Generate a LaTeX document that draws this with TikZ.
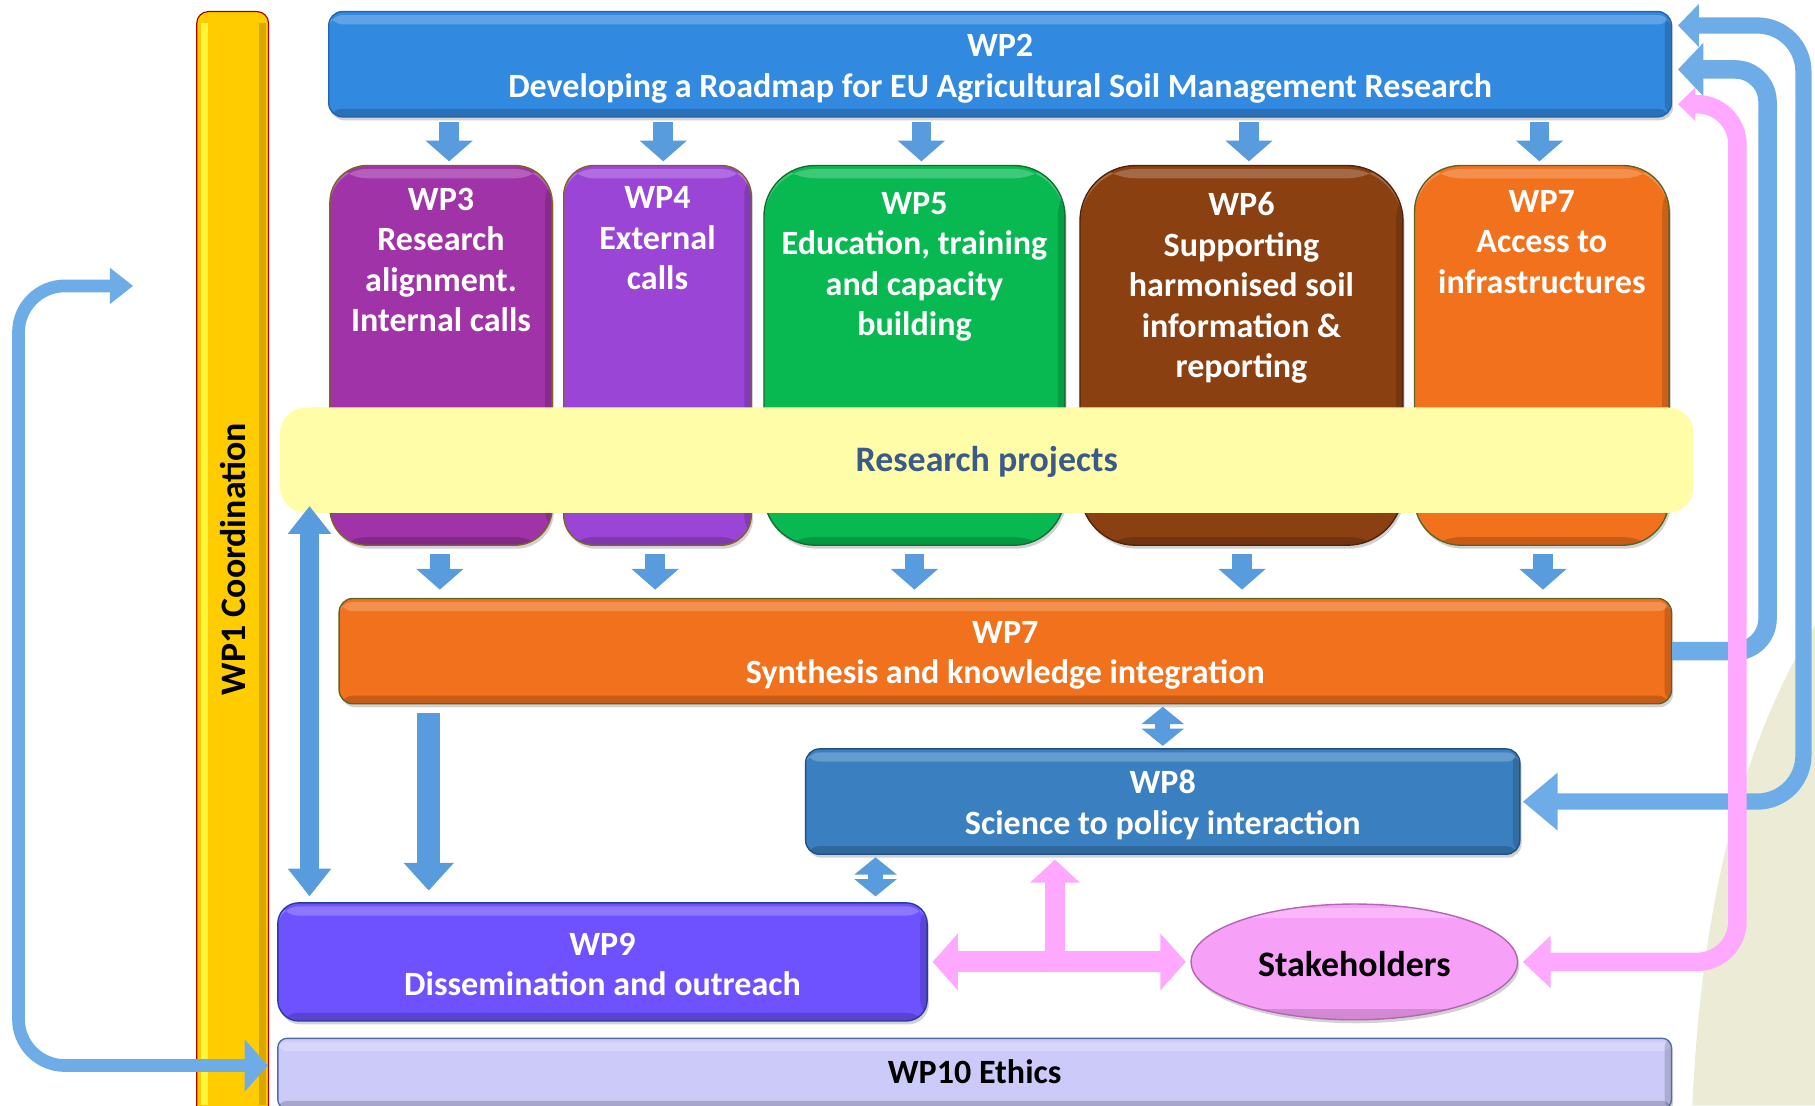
\documentclass[tikz,border=0pt]{standalone}
\usepackage{fontspec}
\setmainfont{Carlito}
\usetikzlibrary{arrows.meta,shapes.geometric,shadows}
\definecolor{cWPtwo}{RGB}{50,137,224}
\definecolor{cWPtwoB}{RGB}{36,100,170}
\definecolor{cWPthree}{RGB}{160,51,168}
\definecolor{cWPfour}{RGB}{155,69,214}
\definecolor{cGoldB}{RGB}{125,100,35}
\definecolor{cWPfive}{RGB}{8,185,82}
\definecolor{cWPfiveB}{RGB}{20,110,50}
\definecolor{cWPsix}{RGB}{139,64,18}
\definecolor{cWPsixB}{RGB}{80,35,10}
\definecolor{cOrange}{RGB}{242,113,29}
\definecolor{cOliveB}{RGB}{90,100,40}
\definecolor{cBand}{RGB}{255,253,168}
\definecolor{cBandText}{RGB}{58,90,140}
\definecolor{cWPeight}{RGB}{58,128,192}
\definecolor{cWPeightB}{RGB}{35,80,130}
\definecolor{cWPnine}{RGB}{110,82,255}
\definecolor{cWPnineB}{RGB}{40,60,160}
\definecolor{cLav}{RGB}{204,202,248}
\definecolor{cLavB}{RGB}{80,110,160}
\definecolor{cPinkE}{RGB}{247,160,247}
\definecolor{cPinkEB}{RGB}{180,100,180}
\definecolor{cPinkA}{RGB}{255,168,255}
\definecolor{cArr}{RGB}{88,156,222}
\definecolor{cArrL}{RGB}{110,172,232}
\definecolor{cYel}{RGB}{255,204,0}
\definecolor{cYelL}{RGB}{255,245,60}
\definecolor{cYelD}{RGB}{190,145,0}
\definecolor{cRed}{RGB}{170,0,0}
\definecolor{cBeige}{RGB}{236,235,214}
\begin{document}
\begin{tikzpicture}[x=1pt,y=-1pt,
  every node/.style={font=\bfseries\fontsize{29.4}{35}\selectfont, inner sep=0pt, align=center},
  bigfont/.style={font=\bfseries\fontsize{31}{36}\selectfont},
  box/.style={fill=#1, line width=1.2pt, rounded corners=12pt,
    drop shadow={opacity=0.35,shadow xshift=1.5pt,shadow yshift=-3pt},
    path picture={
      \fill[white, opacity=0.22] ([yshift=-3pt]path picture bounding box.north west) rectangle ([yshift=-11pt]path picture bounding box.north east);
      \fill[black, opacity=0.18] ([yshift=7pt]path picture bounding box.south west) rectangle (path picture bounding box.south east);
      \fill[black, opacity=0.15] ([xshift=-6pt]path picture bounding box.north east) rectangle (path picture bounding box.south east);
    }},
  wtxt/.style={text=white},
  dnarrow/.style={draw=cArr, line width=17pt, -{Triangle[width=40pt,length=18pt]}},
  dblsmall/.style={draw=cArr, line width=13pt, {Triangle[width=36pt,length=15pt]}-{Triangle[width=36pt,length=15pt]}},
  dbllong/.style={draw=cArr, line width=16pt, {Triangle[width=36pt,length=24pt]}-{Triangle[width=36pt,length=24pt]}},
  longdown/.style={draw=cArr, line width=20pt, -{Triangle[width=42pt,length=24pt]}},
  pinkdbl/.style={draw=cPinkA, line width=18pt, {Triangle[width=48pt,length=22pt]}-{Triangle[width=48pt,length=22pt]}},
  pinkup/.style={draw=cPinkA, line width=18pt, -{Triangle[width=42pt,length=20pt]}},
  pinkrail/.style={draw=cPinkA, line width=16pt, {Triangle[width=28pt,length=15pt]}-{Triangle[width=44pt,length=24pt]}},
  outerrail/.style={draw=cArrL, line width=14pt, {Triangle[width=36pt,length=18pt]}-{Triangle[width=48pt,length=30pt]}},
  midrail/.style={draw=cArrL, line width=16pt, -{Triangle[width=45pt,length=22pt]}},
  leftrail/.style={draw=cArrL, line width=11pt, {Triangle[width=30pt,length=20pt]}-{Triangle[width=44pt,length=20pt]}}
]
\useasboundingbox (0,0) rectangle (1568,955);
\fill[white] (0,0) rectangle (1568,955);
\fill[cBeige] (1568,540) .. controls (1505,640) and (1470,780) .. (1462,955) -- (1568,955) -- cycle;

% WP1 bar
\node[fill=cYel, draw=cRed, line width=1pt, rounded corners=10pt,
  minimum width=62pt, minimum height=960pt] (wp1) at (201,490) {};
\fill[cYelL] (174,20) rectangle (180,955);
\fill[cYelD, opacity=0.6] (224,20) rectangle (230,955);
\node[rotate=90, text=black, bigfont] (wp1t) at (201,483) {WP1 Coordination};

% WP2
\node[box=cWPtwo, draw=cWPtwoB, minimum width=1160pt, minimum height=91pt] (wp2) at (864,55.5) {};
\node[wtxt] (wp2t) at (864,59.5) {WP2\\Developing a Roadmap for EU Agricultural Soil Management Research};

% columns
\node[box=cWPthree, draw=cGoldB, rounded corners=32pt, minimum width=192pt, minimum height=328pt] (wp3) at (381,307) {};
\node[box=cWPfour, draw=cGoldB, rounded corners=26pt, minimum width=162pt, minimum height=328pt] (wp4) at (568,307) {};
\node[box=cWPfive, draw=cWPfiveB, rounded corners=44pt, minimum width=260pt, minimum height=328pt] (wp5) at (790,307) {};
\node[box=cWPsix, draw=cWPsixB, rounded corners=48pt, minimum width=279pt, minimum height=328pt] (wp6) at (1072.5,307) {};
\node[box=cOrange, draw=cOliveB, rounded corners=40pt, minimum width=220pt, minimum height=328pt] (wp7a) at (1332,307) {};
\node[wtxt] (wp3t) at (381,224.5) {WP3\\Research\\alignment.\\Internal calls};
\node[wtxt] (wp4t) at (568,206) {WP4\\External\\calls};
\node[wtxt] (wp5t) at (790,230.5) {WP5\\Education, training\\and capacity\\building};
\node[wtxt] (wp6t) at (1072.5,249) {WP6\\Supporting\\harmonised soil\\information \&\\reporting};
\node[wtxt] (wp7at) at (1332,209) {WP7\\Access to\\infrastructures};

% research projects band
\node[fill=cBand, rounded corners=22pt, minimum width=1221pt, minimum height=91pt] (rp) at (852.5,397.5) {};
\node[text=cBandText, bigfont] (rpt) at (852.5,399.5) {Research projects};

% synthesis
\node[box=cOrange, draw=cOliveB, minimum width=1151pt, minimum height=91pt] (syn) at (868.5,562.5) {};
\node[wtxt] (synt) at (868.5,566) {WP7\\Synthesis and knowledge integration};
% WP8
\node[box=cWPeight, draw=cWPeightB, minimum width=617pt, minimum height=91pt] (wp8) at (1004.5,692.5) {};
\node[wtxt] (wp8t) at (1004.5,695.5) {WP8\\Science to policy interaction};
% WP9
\node[box=cWPnine, draw=cWPnineB, rounded corners=18pt, minimum width=561pt, minimum height=102pt] (wp9) at (520.5,831) {};
\node[wtxt] (wp9t) at (520.5,833) {WP9\\Dissemination and outreach};
% WP10
\node[box=cLav, draw=cLavB, rounded corners=8pt, minimum width=1204pt, minimum height=61pt] (wp10) at (842,927.5) {};
\node[text=black] (wp10t) at (842,926) {WP10 Ethics};
% Stakeholders
\node[ellipse, fill=cPinkE, draw=cPinkEB, line width=1.2pt, minimum width=282pt, minimum height=100pt,
  drop shadow={opacity=0.35,shadow xshift=1.5pt,shadow yshift=-3pt},
  path picture={
    \fill[white, opacity=0.25] ([yshift=-3pt]path picture bounding box.north west) rectangle ([yshift=-12pt]path picture bounding box.north east);
    \fill[black, opacity=0.15] ([yshift=9pt]path picture bounding box.south west) rectangle (path picture bounding box.south east);
  }] (stk) at (1170,831) {};
\node[text=black, font=\bfseries\fontsize{31}{36}\selectfont] (stkt) at (1170,833) {Stakeholders};

% short arrows WP2 -> columns -> synthesis
\foreach \n/\s in {wp3/7,wp4/5,wp5/6,wp6/6.5,wp7a/-2} {
  \coordinate (t\n) at (wp2.south -| \n.north);
  \draw[dnarrow] ([xshift=\s pt,yshift=-4pt]t\n) -- ([xshift=\s pt,yshift=3pt]\n.north);
}
\foreach \n/\s in {wp3/-1,wp4/-2,wp5/0,wp6/0.5,wp7a/1} {
  \coordinate (b\n) at (syn.north -| \n.south);
  \draw[dnarrow] ([xshift=\s pt,yshift=-7pt]\n.south) -- ([xshift=\s pt,yshift=7pt]b\n);
}

% synthesis <-> WP8
\coordinate (s8) at (syn.south -| wp8.north);
\draw[dblsmall] ([yshift=-2pt]s8) -- ([yshift=2pt]wp8.north);
% WP8 <-> WP9
\coordinate (d89) at ([xshift=61pt]wp8.south west);
\coordinate (d89b) at (d89 |- wp9.north);
\draw[dblsmall] ([yshift=-2pt]d89) -- ([yshift=5pt]d89b);
% research projects <-> WP9
\coordinate (ldA) at ([xshift=28pt]wp9.north west);
\coordinate (ldB) at (ldA |- rp.south);
\draw[dbllong] ([yshift=6pt]ldB) -- ([yshift=5pt]ldA);
% synthesis -> WP9
\coordinate (s9a) at ([xshift=78pt]syn.south west);
\coordinate (s9b) at (s9a |- wp9.north);
\draw[longdown] ([yshift=-7pt]s9a) -- ([yshift=10pt]s9b);

% rails
\coordinate (railO) at (1558,0);
\coordinate (railM) at (1527,0);
\coordinate (railP) at (1501,0);
\coordinate (railL) at (16,0);

\coordinate (o1) at ([xshift=5pt,yshift=33.5pt]wp2.east);
\coordinate (o2) at ([xshift=2pt]wp8.east);
\draw[outerrail, rounded corners=40pt] (o1) -- (railO |- o1) -- (railO |- o2) -- (o2);

\coordinate (m1) at ([xshift=5pt,yshift=-4.5pt]wp2.east);
\draw[midrail, rounded corners=28pt] (syn.east) -- (railM |- syn.east) -- (railM |- m1) -- (m1);

\coordinate (p1) at ([xshift=5pt,yshift=-34.5pt]wp2.east);
\coordinate (p2) at ([xshift=4pt]stk.east);
\draw[pinkrail, rounded corners=35pt] (p1) -- (railP |- p1) -- (railP |- p2) -- (p2);

% pink: WP9 <-> stakeholders, branch to WP8
\draw[pinkdbl] ([xshift=4pt]wp9.east) -- ([xshift=-4pt]stk.west);
\coordinate (pj) at ([xshift=216pt]wp8.south west);
\coordinate (pjb) at (pj |- wp9.east);
\draw[pinkup] ([yshift=-9pt]pjb) -- ([yshift=-4pt]pj);

% left loop arrow
\coordinate (la) at (115,247);
\coordinate (le) at ([xshift=-8pt,yshift=7pt]wp10.west);
\draw[leftrail, rounded corners=40pt] (la) -- (railL |- la) -- (railL |- le) -- (le);
\end{tikzpicture}
\end{document}
